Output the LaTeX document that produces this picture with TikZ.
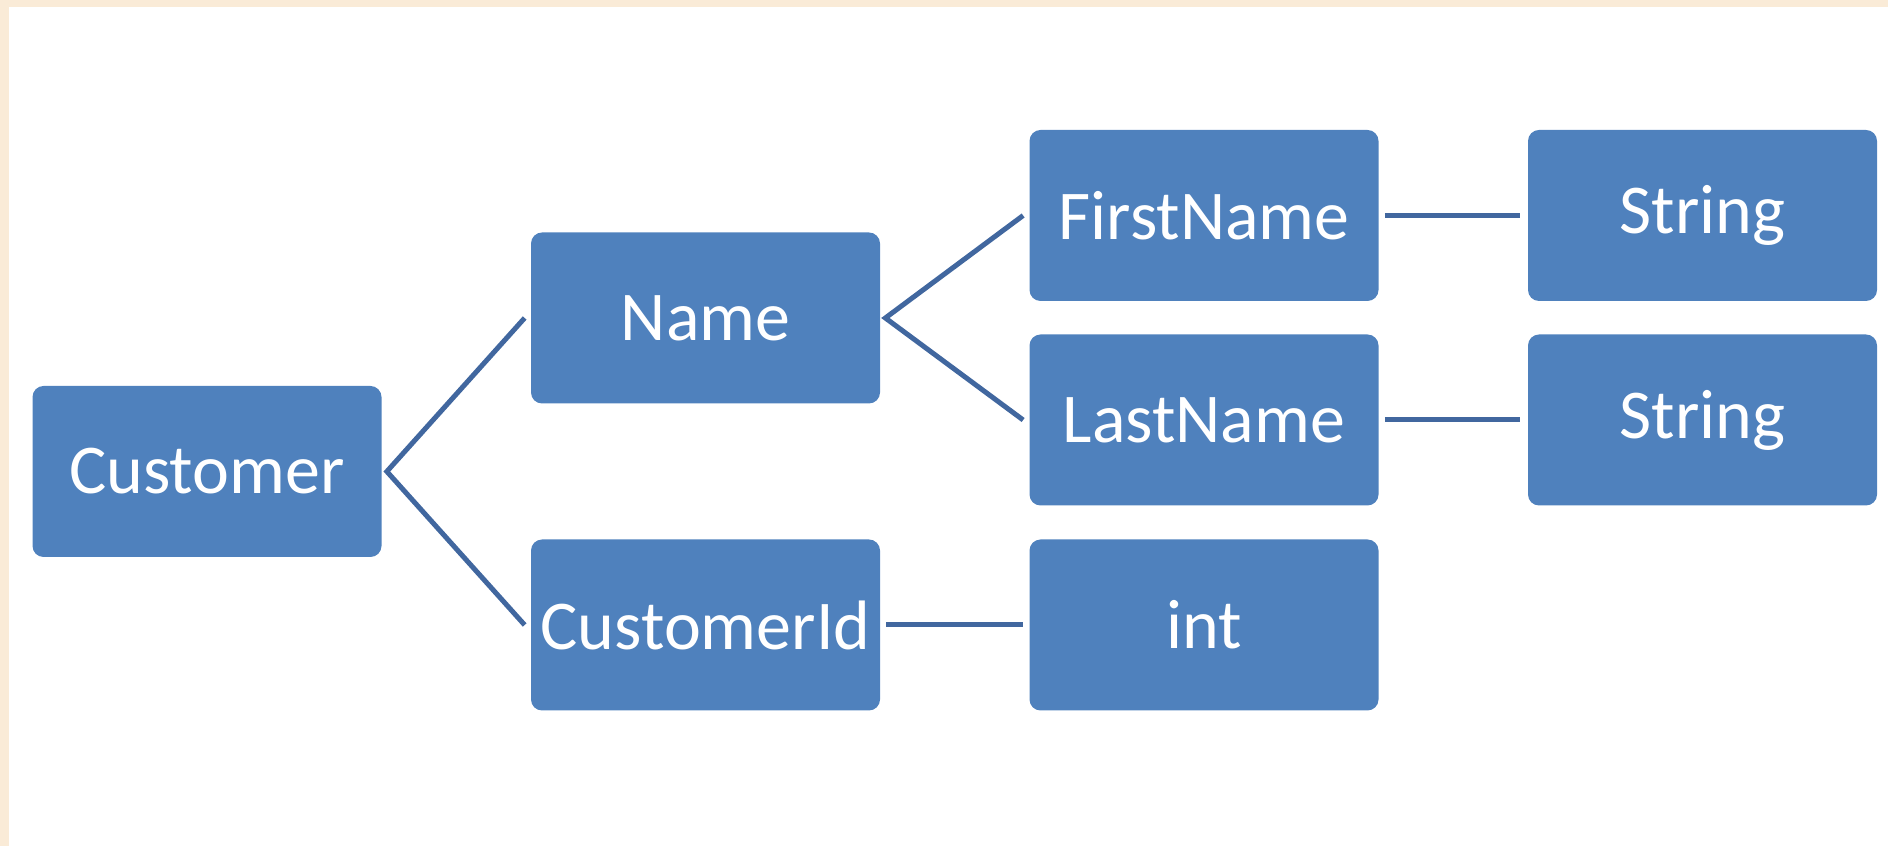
\documentclass[tikz,border=0pt]{standalone}
\usepackage{fontspec}
\setmainfont{Carlito}
\usepackage{tikz}
\usetikzlibrary{positioning}
\definecolor{mfill}{HTML}{4F81BD}
\definecolor{mline}{HTML}{41679F}
\definecolor{mpaper}{HTML}{FAEBD7}
\tikzset{box/.style = {fill = mfill, rounded corners = 0.22cm, minimum width = 6.98cm,
                       minimum height = 3.42cm, inner sep = 0, text = white,
                       font = \fontsize{39.8}{48}\selectfont}}
\tikzset{link/.style = {mline, line width = 0.1cm, line join = miter}}

\begin{document}
\begin{tikzpicture}
      \useasboundingbox (0, 0) rectangle (37.76, 16.92);
      \fill [mpaper] (0, 16.78) rectangle (37.76, 16.92);
      \fill [mpaper] (0, 0) rectangle (0.18, 16.92);

      \node [box] (customer) at (4.14, 7.49) {Customer};
      \node [box] (name) at (14.11, 10.56) {Name};
      \node [box] (custid) at (14.11, 4.42) {CustomerId};
      \node [box] (first) at (24.08, 12.61) {FirstName};
      \node [box] (last) at (24.08, 8.52) {LastName};
      \node [box] (int) at (24.08, 4.42) {int};
      \node [box] (str1) at (34.05, 12.61) {String};
      \node [box] (str2) at (34.05, 8.52) {String};

      \draw [link] ([xshift=-0.12cm] name.west) -- ([xshift=0.1cm] customer.east)
                   -- ([xshift=-0.12cm] custid.west);
      \draw [link] ([xshift=-0.12cm] first.west) -- ([xshift=0.1cm] name.east)
                   -- ([xshift=-0.12cm] last.west);
      \draw [link] ([xshift=0.12cm] custid.east) -- ([xshift=-0.12cm] int.west);
      \draw [link] ([xshift=0.12cm] first.east) -- ([xshift=-0.16cm] str1.west);
      \draw [link] ([xshift=0.12cm] last.east) -- ([xshift=-0.16cm] str2.west);
    \end{tikzpicture}
\end{document}
